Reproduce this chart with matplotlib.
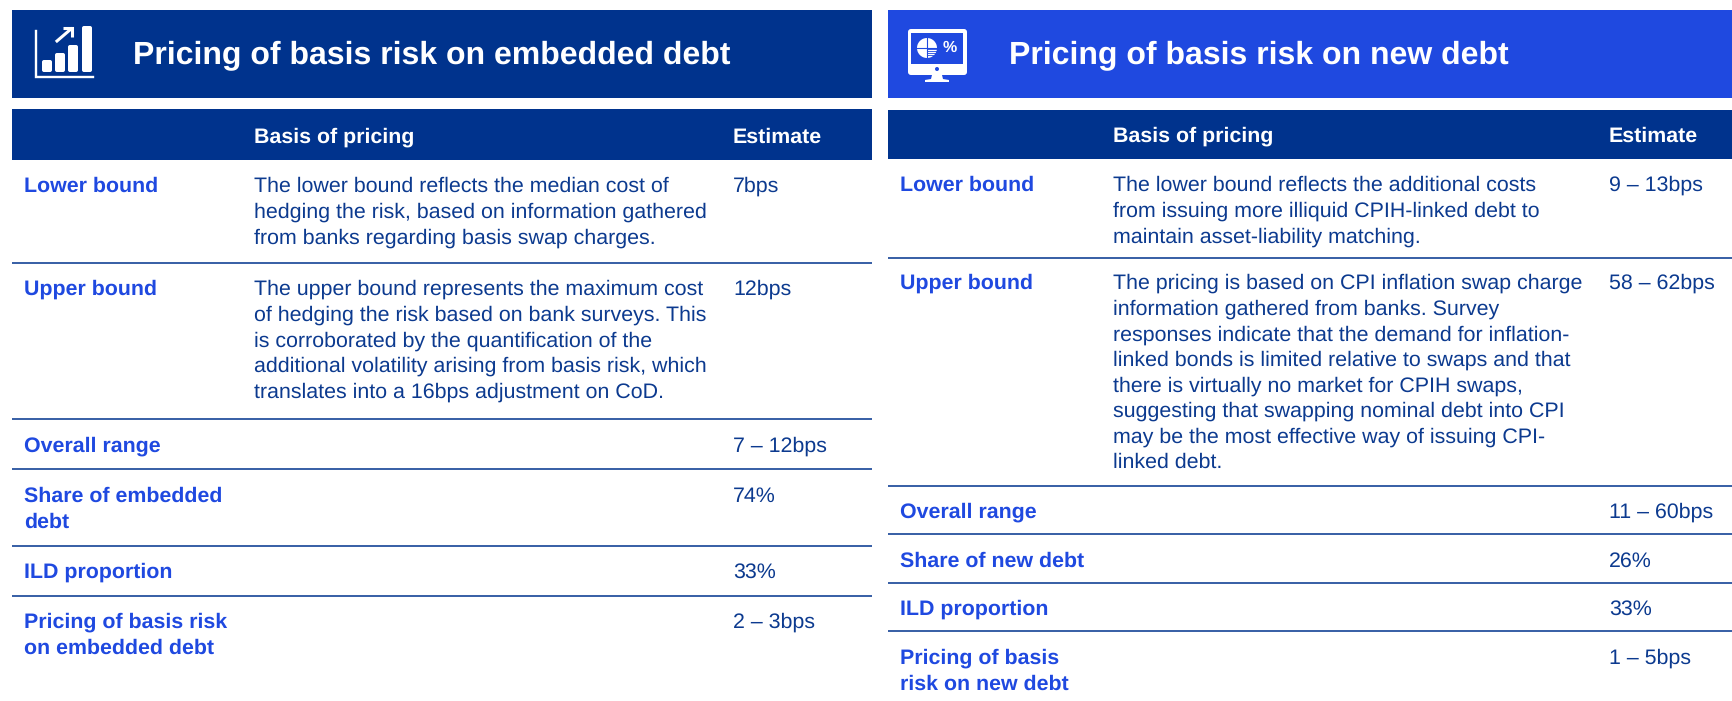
import matplotlib
matplotlib.use('Agg')
import matplotlib.pyplot as plt
from matplotlib.patches import Rectangle, Wedge, FancyBboxPatch, Circle, Polygon

plt.rcParams['font.family'] = ['Liberation Sans', 'DejaVu Sans']
plt.rcParams['text.hinting'] = 'no_hinting'

NAVY = '#00338d'
BLUE = '#1f49e0'
BODY = '#0c3a8f'
FS = 15.4
STEP = 25.6

left_title = 'Pricing of basis risk on embedded debt'
right_title = 'Pricing of basis risk on new debt'
col_basis = 'Basis of pricing'
col_estimate = 'Estimate'

left_rows = ['Lower bound', 'Upper bound', 'Overall range', 'Share of embedded\ndebt', 'ILD proportion',
             'Pricing of basis risk\non embedded debt']
left_basis = ['The lower bound reflects the median cost of\nhedging the risk, based on information gathered\n'
              'from banks regarding basis swap charges.',
              'The upper bound represents the maximum cost\nof hedging the risk based on bank surveys. This\n'
              'is corroborated by the quantification of the\nadditional volatility arising from basis risk, which\n'
              'translates into a 16bps adjustment on CoD.',
              '', '', '', '']
left_est = ['7bps', '12bps', '7 – 12bps', '74%', '33%', '2 – 3bps']

right_rows = ['Lower bound', 'Upper bound', 'Overall range', 'Share of new debt', 'ILD proportion',
              'Pricing of basis\nrisk on new debt']
right_basis = ['The lower bound reflects the additional costs\nfrom issuing more illiquid CPIH-linked debt to\n'
               'maintain asset-liability matching.',
               'The pricing is based on CPI inflation swap charge\ninformation gathered from banks. Survey\n'
               'responses indicate that the demand for inflation-\nlinked bonds is limited relative to swaps and that\n'
               'there is virtually no market for CPIH swaps,\nsuggesting that swapping nominal debt into CPI\n'
               'may be the most effective way of issuing CPI-\nlinked debt.',
               '', '', '', '']
right_est = ['9 – 13bps', '58 – 62bps', '11 – 60bps', '26%', '33%', '1 – 5bps']

fig = plt.figure(figsize=(17.32, 7.01), dpi=100)
ax = fig.add_axes([0, 0, 1, 1])
ax.set_xlim(0, 1732)
ax.set_ylim(701, 0)
ax.axis('off')


def lines(x, y, s, **kw):
    for i, t in enumerate(s.split('\n')):
        ax.text(x, y + i * STEP, t, fontsize=FS, va='baseline', **kw)


def panel(x0, x1, bar_col, head_top, head_bot, head_y, title, title_x, rows, basis, est, row_ys, rules, xs):
    ax.add_patch(Rectangle((x0, 10), x1 - x0, 88, fc=bar_col, ec='none'))
    ax.add_patch(Rectangle((x0, head_top), x1 - x0, head_bot - head_top, fc=NAVY, ec='none'))
    ax.text(title_x, 63, title, color='white', fontsize=23.05, fontweight='bold', va='baseline')
    lines(xs[1], head_y, col_basis, color='white', fontweight='bold')
    lines(xs[2], head_y, col_estimate, color='white', fontweight='bold')
    for y in rules:
        ax.plot([x0, x1], [y, y], color=NAVY, lw=1.1, solid_capstyle='butt')
    for y, r, b, e in zip(row_ys, rows, basis, est):
        lines(xs[0], y, r, color=BLUE, fontweight='bold')
        lines(xs[1], y, b, color=BODY)
        lines(xs[2], y, e, color=BODY)


panel(12, 872, NAVY, 109, 160, 143, left_title, 133, left_rows, left_basis, left_est,
      [192, 295, 452, 502, 578, 628], [263, 419, 469, 546, 596], [24, 254, 733])
panel(888, 1732, BLUE, 110, 159, 142, right_title, 1009, right_rows, right_basis, right_est,
      [191, 289, 518, 567, 615, 664], [258, 486, 534, 583, 631], [900, 1113, 1609])

# bar chart icon
ax.plot([36, 36, 93], [31, 77, 77], color='white', lw=1.7, solid_joinstyle='miter')
for bx, by in zip([42, 55, 68, 82], [60, 53, 45, 26]):
    ax.add_patch(FancyBboxPatch((bx, by), 10, 72 - by, boxstyle='round,pad=0,rounding_size=2', fc='white', ec='none'))
ax.plot([57, 71], [41, 29], color='white', lw=2.2)
ax.add_patch(Polygon([[63, 28], [72, 28], [72, 37]], closed=False, fill=False, ec='white', lw=2.2))

# monitor icon
ax.add_patch(FancyBboxPatch((908, 29), 59, 46, boxstyle='round,pad=0,rounding_size=3', fc='white', ec='none'))
ax.add_patch(Rectangle((911, 33), 52, 31, fc=BLUE, ec='none'))
ax.add_patch(Circle((937, 69), 2, fc=BLUE, ec='none'))
ax.add_patch(Polygon([[932, 75], [942, 75], [943, 79], [949, 80], [949, 82], [925, 82], [925, 80], [931, 79]],
                     fc='white', ec='none'))
ax.add_patch(Wedge((927, 48), 10, 0, 360, fc='white', ec='none'))
for y in [49, 51, 53, 55]:
    ax.plot([927, 938], [y, y], color=BLUE, lw=0.6)
ax.plot([917, 927, 938], [48, 48, 48], color=BLUE, lw=0.8)
ax.plot([927, 927], [38, 58], color=BLUE, lw=0.8)
ax.text(950, 48, '%', color='white', fontsize=11.5, fontweight='bold', ha='center', va='center')

fig.savefig('out.png', dpi=100)
